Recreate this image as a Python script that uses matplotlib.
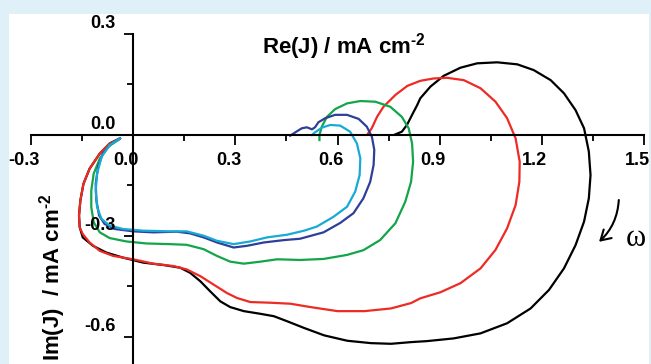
import matplotlib.pyplot as plt
from matplotlib.patches import Rectangle

plt.rcParams['font.family'] = ['Liberation Sans', 'DejaVu Sans']
plt.rcParams['mathtext.fontset'] = 'custom'
plt.rcParams['mathtext.rm'] = 'Liberation Sans:bold'
plt.rcParams['mathtext.bf'] = 'Liberation Sans:bold'

# 各曲线数据 (Re(J), Im(J)), mA cm-2
black_re = [-0.039, -0.069, -0.098, -0.128, -0.146, -0.155, -0.159, -0.157, -0.148, -0.118,
            -0.079, -0.030, 0.030, 0.089, 0.138, 0.167, 0.197, 0.226, 0.256, 0.285,
            0.325, 0.374, 0.413, 0.452, 0.502, 0.561, 0.629, 0.698, 0.757, 0.816,
            0.863, 0.941, 1.020, 1.098, 1.167, 1.221, 1.265, 1.299, 1.324, 1.338,
            1.343, 1.338, 1.324, 1.299, 1.265, 1.226, 1.176, 1.128, 1.069, 1.010,
            0.961, 0.912, 0.873, 0.843, 0.834, 0.819, 0.804, 0.789, 0.770]
black_im = [-0.011, -0.026, -0.056, -0.101, -0.146, -0.195, -0.240, -0.275, -0.305, -0.330,
            -0.350, -0.365, -0.380, -0.387, -0.395, -0.410, -0.435, -0.465, -0.495, -0.512,
            -0.524, -0.532, -0.539, -0.554, -0.574, -0.596, -0.612, -0.619, -0.621, -0.616,
            -0.613, -0.605, -0.590, -0.560, -0.516, -0.461, -0.397, -0.328, -0.258, -0.189,
            -0.120, -0.050, 0.019, 0.073, 0.123, 0.162, 0.192, 0.209, 0.215, 0.212,
            0.199, 0.175, 0.143, 0.108, 0.088, 0.059, 0.029, 0.009, 0.001]

red_re = [-0.039, -0.069, -0.098, -0.128, -0.146, -0.155, -0.159, -0.157, -0.148, -0.128,
          -0.098, -0.059, 0.0, 0.059, 0.118, 0.157, 0.197, 0.236, 0.275, 0.305,
          0.344, 0.403, 0.462, 0.521, 0.600, 0.679, 0.757, 0.816, 0.843, 0.902,
          0.961, 1.020, 1.064, 1.098, 1.123, 1.134, 1.135, 1.123, 1.098, 1.064,
          1.020, 0.971, 0.922, 0.882, 0.843, 0.805, 0.770, 0.735, 0.716, 0.701,
          0.688]
red_im = [-0.011, -0.026, -0.056, -0.101, -0.146, -0.195, -0.240, -0.275, -0.295, -0.320,
          -0.345, -0.360, -0.370, -0.383, -0.390, -0.400, -0.420, -0.445, -0.470, -0.485,
          -0.497, -0.499, -0.502, -0.512, -0.524, -0.524, -0.516, -0.500, -0.486, -0.468,
          -0.441, -0.397, -0.342, -0.278, -0.209, -0.140, -0.080, -0.011, 0.049, 0.098,
          0.138, 0.162, 0.169, 0.167, 0.160, 0.145, 0.118, 0.083, 0.053, 0.020,
          0.001]

green_re = [-0.041, -0.074, -0.098, -0.116, -0.123, -0.123, -0.116, -0.098, -0.069, -0.020,
            0.039, 0.108, 0.157, 0.207, 0.246, 0.285, 0.325, 0.374, 0.423, 0.490,
            0.559, 0.628, 0.676, 0.725, 0.770, 0.799, 0.816, 0.822, 0.819, 0.809,
            0.789, 0.755, 0.711, 0.667, 0.628, 0.593, 0.569, 0.554, 0.547, 0.547]
green_im = [-0.014, -0.036, -0.071, -0.116, -0.166, -0.215, -0.260, -0.290, -0.307, -0.317,
            -0.323, -0.325, -0.327, -0.340, -0.360, -0.377, -0.383, -0.377, -0.370, -0.372,
            -0.369, -0.357, -0.343, -0.313, -0.263, -0.199, -0.140, -0.080, -0.026, 0.019,
            0.053, 0.083, 0.098, 0.100, 0.093, 0.076, 0.053, 0.024, -0.001, -0.016]

blue_re = [-0.039, -0.064, -0.089, -0.103, -0.110, -0.108, -0.100, -0.084, -0.054, 0.0,
           0.059, 0.128, 0.167, 0.207, 0.246, 0.295, 0.334, 0.384, 0.443, 0.490,
           0.559, 0.608, 0.647, 0.676, 0.696, 0.706, 0.708, 0.701, 0.686, 0.662,
           0.628, 0.593, 0.564, 0.544, 0.534, 0.525, 0.510, 0.495, 0.476, 0.461]
blue_im = [-0.011, -0.026, -0.056, -0.096, -0.146, -0.195, -0.240, -0.265, -0.280, -0.287,
           -0.290, -0.288, -0.293, -0.305, -0.320, -0.335, -0.330, -0.320, -0.313, -0.309,
           -0.290, -0.262, -0.233, -0.189, -0.140, -0.090, -0.045, -0.006, 0.024, 0.047,
           0.059, 0.059, 0.049, 0.037, 0.022, 0.016, 0.022, 0.019, 0.007, -0.003]

cyan_re = [-0.039, -0.069, -0.093, -0.106, -0.110, -0.106, -0.093, -0.069, -0.030, 0.030,
           0.108, 0.157, 0.207, 0.246, 0.295, 0.344, 0.393, 0.452, 0.502, 0.539,
           0.588, 0.628, 0.652, 0.665, 0.667, 0.657, 0.637, 0.608, 0.579, 0.554,
           0.534, 0.525]
cyan_im = [-0.011, -0.031, -0.066, -0.116, -0.166, -0.215, -0.250, -0.270, -0.280, -0.285,
           -0.287, -0.287, -0.300, -0.315, -0.325, -0.317, -0.305, -0.297, -0.285, -0.273,
           -0.244, -0.214, -0.169, -0.120, -0.070, -0.026, 0.009, 0.027, 0.029, 0.021,
           0.007, -0.001]

xticks = [-0.3, 0.0, 0.3, 0.6, 0.9, 1.2, 1.5]
yticks = [0.3, 0.0, -0.3, -0.6]

W, H = 651, 364
fig = plt.figure(figsize=(W / 100, H / 100), dpi=100)
fig.patch.set_facecolor('#dff0f9')
# 白色面板
fig.patches.append(Rectangle((9 / W, 0), 640 / W, 350 / H, transform=fig.transFigure,
                             facecolor='white', edgecolor='none', zorder=-10))

ax = fig.add_axes([31 / W, 0, 613 / W, (H - 33.7) / H])
ax.patch.set_visible(False)
ax.set_xlim(-0.3, 1.5)
ax.set_ylim(-0.681, 0.3)

for spine in ['top', 'right']:
    ax.spines[spine].set_visible(False)
ax.spines['left'].set_position(('data', 0))
ax.spines['bottom'].set_position(('data', 0))
ax.spines['left'].set_linewidth(1.5)
ax.spines['bottom'].set_linewidth(1.5)

ax.set_xticks(xticks)
ax.set_xticks([-0.15, 0.15, 0.45, 0.75, 1.05, 1.35], minor=True)
ax.set_yticks(yticks)
ax.set_yticks([0.15, -0.15, -0.45], minor=True)
ax.tick_params(axis='x', which='major', direction='out', length=7.2, width=1.3)
ax.tick_params(axis='x', which='minor', direction='out', length=4.5, width=1.3)
ax.tick_params(axis='y', which='major', direction='out', length=6.5, width=1.3)
ax.tick_params(axis='y', which='minor', direction='out', length=4.5, width=1.3)
ax.tick_params(labelbottom=False, labelleft=False)

lw = 1.6
ax.plot(black_re, black_im, color='black', lw=lw, solid_joinstyle='round')
ax.plot(red_re, red_im, color='#ee2a24', lw=lw, solid_joinstyle='round')
ax.plot(green_re, green_im, color='#12a54a', lw=lw, solid_joinstyle='round')
ax.plot(blue_re, blue_im, color='#2e3f98', lw=lw, solid_joinstyle='round')
ax.plot(cyan_re, cyan_im, color='#18aad6', lw=lw, solid_joinstyle='round')

# 刻度标签
for v in xticks:
    ax.annotate(f'{v:.1f}', xy=(v, 0), xytext=(-5, -21.8), textcoords='offset points',
                ha='center', va='baseline', fontsize=13, fontweight='bold')
for v in yticks:
    ax.annotate(f'{v:.1f}', xy=(0, v), xytext=(-12.5, 4.3), textcoords='offset points',
                ha='right', va='baseline', fontsize=13, fontweight='bold')

# 坐标轴标题
fig.text(261.7 / W, 1 - 53.3 / H, r'Re(J) / mA cm$^{\text{-2}}$', fontsize=16,
         fontweight='bold', ha='left', va='baseline')
fig.text(60 / W, 3 / H, r'Im(J)  / mA cm$^{\text{-2}}$', fontsize=16,
         fontweight='bold', ha='left', va='baseline', rotation=90, rotation_mode='anchor')

# 频率方向箭头
ax.annotate('', xy=(1.368, -0.318), xytext=(1.426, -0.194),
            arrowprops=dict(arrowstyle='->,head_length=0.5,head_width=0.3',
                            connectionstyle='arc3,rad=-0.2', lw=1.5, color='black',
                            mutation_scale=14, shrinkA=0, shrinkB=0))
ax.text(1.476, -0.307, 'ω', fontsize=22, family='Liberation Serif', ha='center', va='center')

fig.savefig('out.png', dpi=100)
